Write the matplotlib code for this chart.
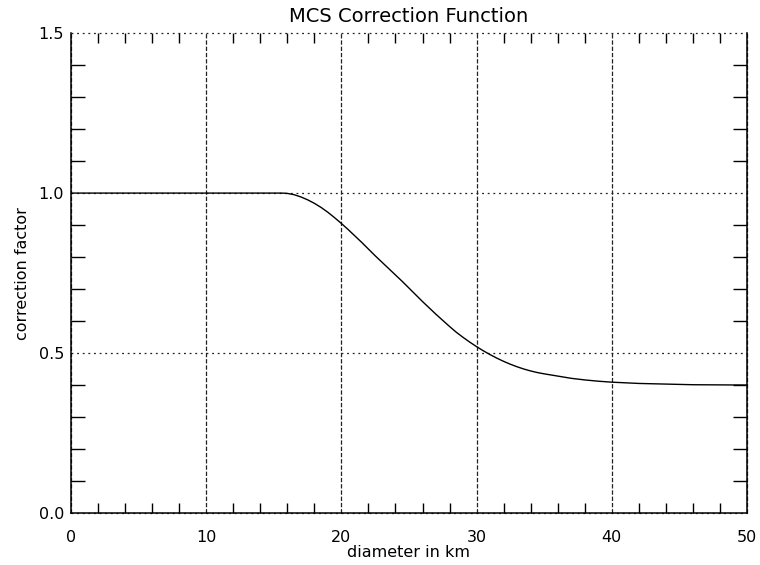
import matplotlib
matplotlib.use('Agg')
import matplotlib.pyplot as plt
from matplotlib.ticker import MultipleLocator

# correction curve, values
diameter = [0, 5, 10, 15, 15.6, 16.0, 16.5, 17.0, 17.5, 18.0, 18.5, 19.0, 19.5,
            20.0, 20.5, 21.0, 21.5, 22.0, 22.5, 23.0, 23.5, 24.0, 24.5, 25.0, 25.5,
            26.0, 26.5, 27.0, 27.5, 28.0, 28.5, 29.0, 29.5, 30.0, 30.5, 31.0, 31.5,
            32.0, 32.5, 33.0, 33.5, 34.0, 34.5, 35.0, 36.0, 37.0, 38.0, 39.0, 40.0,
            42.0, 44.0, 46.0, 50.0]
factor = [1.0, 1.0, 1.0, 1.0, 1.0, 0.999, 0.995, 0.988, 0.979, 0.968, 0.955, 0.940, 0.923,
          0.905, 0.886, 0.866, 0.846, 0.825, 0.804, 0.784, 0.764, 0.744, 0.724, 0.703, 0.682,
          0.661, 0.641, 0.621, 0.602, 0.583, 0.565, 0.549, 0.534, 0.520, 0.507, 0.495, 0.484,
          0.474, 0.465, 0.457, 0.450, 0.444, 0.439, 0.435, 0.428, 0.421, 0.416, 0.412, 0.409,
          0.405, 0.403, 0.401, 0.400]

x_major = [0, 10, 20, 30, 40, 50]
x_labels = ['0', '10', '20', '30', '40', '50']
y_major = [0.0, 0.5, 1.0, 1.5]
y_labels = ['0.0', '0.5', '1.0', '1.5']

plt.rcParams['font.family'] = 'DejaVu Sans'

fig = plt.figure(figsize=(7.6, 5.65), dpi=100)
ax = fig.add_axes([0.0934, 0.092, 0.8895, 0.8494])

ax.plot(diameter, factor, color='black', lw=1.0, zorder=3, solid_joinstyle='round')

ax.set_xlim(0, 50)
ax.set_ylim(0, 1.5)
ax.set_xticks(x_major)
ax.set_xticklabels(x_labels)
ax.set_yticks(y_major)
ax.set_yticklabels(y_labels)
ax.xaxis.set_minor_locator(MultipleLocator(2))
ax.yaxis.set_minor_locator(MultipleLocator(0.1))

# IDL style: major ticks are the full-length grid lines, minor ticks go inward on all sides
ax.tick_params(which='major', length=0, labelsize=11.5, pad=5, colors='black')
ax.tick_params(axis='x', which='major', pad=12)
ax.tick_params(axis='x', which='minor', direction='in', length=7, width=1,
               top=True, bottom=True)
ax.tick_params(axis='y', which='minor', direction='in', length=10, width=1,
               left=True, right=True)

ax.xaxis.grid(True, which='major', color='#222222', lw=0.9, linestyle=(0, (3.5, 1.5)))
ax.yaxis.grid(True, which='major', color='#222222', lw=0.9, linestyle=(0, (1.5, 3)))
for gl in ax.get_xgridlines() + ax.get_ygridlines():
    gl.set_clip_on(False)

ax.spines['top'].set_visible(False)
for s in ['bottom', 'right', 'left']:
    ax.spines[s].set_linewidth(1.1)
    ax.spines[s].set_color('black')

ax.set_title('MCS Correction Function', fontsize=14, pad=8)
ax.set_xlabel('diameter in km', fontsize=11.5, labelpad=0)
ax.set_ylabel('correction factor', fontsize=11.5, labelpad=6)

fig.savefig('out.png', dpi=100)
